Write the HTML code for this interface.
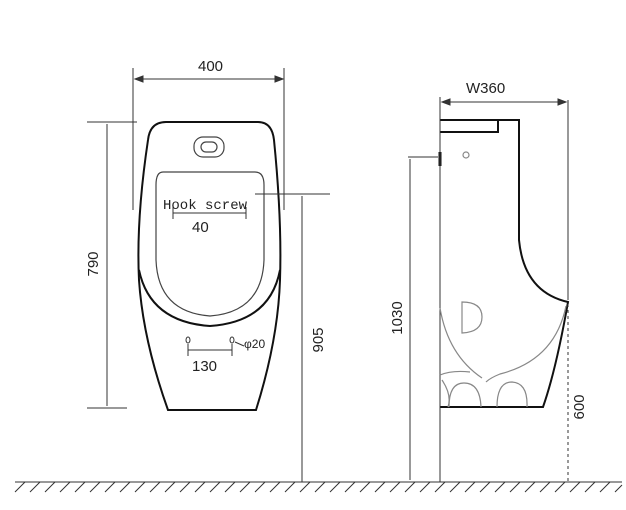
<!DOCTYPE html>
<html><head><style>body{margin:0;background:#fff}svg{display:block}</style></head><body>
<svg width="626" height="510" viewBox="0 0 626 510" xmlns="http://www.w3.org/2000/svg" font-family="Liberation Sans, sans-serif">
<g fill="none" stroke="#111" stroke-width="2">
<!-- front outer -->
<path d="M166,122 L258,122 Q272,122 274,140 Q282,220 280,280 Q278,340 256,410 L168,410 Q143,340 139,280 Q136,220 148,140 Q150,122 166,122 Z"/>
<!-- bowl outer -->
<path d="M139,270 Q150,322 210,326 Q270,322 280,270"/>
</g>
<g fill="none" stroke="#444" stroke-width="1.2">
<rect x="194" y="137" width="30" height="20" rx="9"/>
<rect x="201" y="142" width="16" height="10" rx="5"/>
<path d="M163,172 L255,172 Q264,172 264,185 L264,260 Q262,312 210,316 Q158,312 156,260 L156,185 Q156,172 163,172 Z"/>
</g>
<g stroke="#333" stroke-width="1" fill="none">
<!-- 400 -->
<line x1="133" y1="68" x2="133" y2="210"/><line x1="284" y1="68" x2="284" y2="210"/>
<line x1="135" y1="79" x2="283" y2="79"/>
<path d="M135,79 l8,-3 v6 z M283,79 l-8,-3 v6 z" fill="#333"/>
<!-- 790 -->
<line x1="87" y1="122" x2="137" y2="122"/><line x1="87" y1="408" x2="127" y2="408"/>
<line x1="107" y1="124" x2="107" y2="406"/>
<!-- 905 -->
<line x1="255" y1="194" x2="330" y2="194"/>
<line x1="302" y1="196" x2="302" y2="482"/>
<!-- hook dim -->
<line x1="173" y1="213" x2="246" y2="213"/>
<line x1="173" y1="207" x2="173" y2="219"/><line x1="246" y1="207" x2="246" y2="219"/>
<!-- 130 -->
<line x1="188" y1="350" x2="232" y2="350"/>
<line x1="188" y1="344" x2="188" y2="356"/><line x1="232" y1="344" x2="232" y2="356"/>
<ellipse cx="188" cy="340" rx="2" ry="3"/><ellipse cx="232" cy="340" rx="2" ry="3"/>
<line x1="235" y1="342" x2="244" y2="346"/>
</g>
<g fill="#222" font-size="15">
<text x="198" y="71">400</text>
<text transform="translate(98,264) rotate(-90)" text-anchor="middle">790</text>
<text transform="translate(323,340) rotate(-90)" text-anchor="middle">905</text>
<text x="163" y="209" font-family="Liberation Mono, monospace" font-size="14">Hook screw</text>
<text x="192" y="232">40</text>
<text x="192" y="371">130</text>
<text x="244" y="348" font-size="12">φ20</text>
<text x="466" y="93">W360</text>
<text transform="translate(402,318) rotate(-90)" text-anchor="middle">1030</text>
<text transform="translate(584,407) rotate(-90)" text-anchor="middle">600</text>
</g>
<!-- side view -->
<g fill="none" stroke="#111" stroke-width="2">
<path d="M440,120 L519,120 L519,240 Q524,292 568,302 Q556,370 543,407 L440,407"/>
<path d="M440,132 L498,132 L498,120"/>
<line x1="440" y1="152" x2="440" y2="166" stroke-width="3"/>
</g>
<g fill="none" stroke="#333" stroke-width="1">
<line x1="440" y1="97" x2="440" y2="482"/>
<line x1="442" y1="102" x2="566" y2="102"/>
<path d="M442,102 l8,-3 v6 z M566,102 l-8,-3 v6 z" fill="#333"/>
<line x1="568" y1="100" x2="568" y2="300"/>
<line x1="568" y1="304" x2="568" y2="482" stroke-dasharray="3,3"/>
<line x1="408" y1="157" x2="438" y2="157"/>
<line x1="410" y1="159" x2="410" y2="480"/>
</g>
<g fill="none" stroke="#888" stroke-width="1.2">
<circle cx="466" cy="155" r="3"/>
<path d="M462,302 L462,333 Q482,332 482,317 Q482,302 462,302 Z"/>
<path d="M440,308 Q448,355 482,378"/>
<path d="M566,306 Q555,360 500,374 Q490,378 486,382"/>
<path d="M440,375 Q452,370 470,372"/>
<path d="M442,380 Q452,395 448,407"/>
<path d="M449,407 Q449,383 464,383 Q480,383 481,407"/>
<path d="M497,407 Q497,382 512,382 Q528,383 527,407"/>
</g>
<!-- ground -->
<g stroke="#333" stroke-width="1">
<line x1="15" y1="482" x2="622" y2="482"/>
<path d="M15,492 L25,482 M30,492 L40,482 M45,492 L55,482 M60,492 L70,482 M75,492 L85,482 M90,492 L100,482 M105,492 L115,482 M120,492 L130,482 M135,492 L145,482 M150,492 L160,482 M165,492 L175,482 M180,492 L190,482 M195,492 L205,482 M210,492 L220,482 M225,492 L235,482 M240,492 L250,482 M255,492 L265,482 M270,492 L280,482 M285,492 L295,482 M300,492 L310,482 M315,492 L325,482 M330,492 L340,482 M345,492 L355,482 M360,492 L370,482 M375,492 L385,482 M390,492 L400,482 M405,492 L415,482 M420,492 L430,482 M435,492 L445,482 M450,492 L460,482 M465,492 L475,482 M480,492 L490,482 M495,492 L505,482 M510,492 L520,482 M525,492 L535,482 M540,492 L550,482 M555,492 L565,482 M570,492 L580,482 M585,492 L595,482 M600,492 L610,482 M615,492 L622,485"/>
</g>
</svg>
</body></html>
